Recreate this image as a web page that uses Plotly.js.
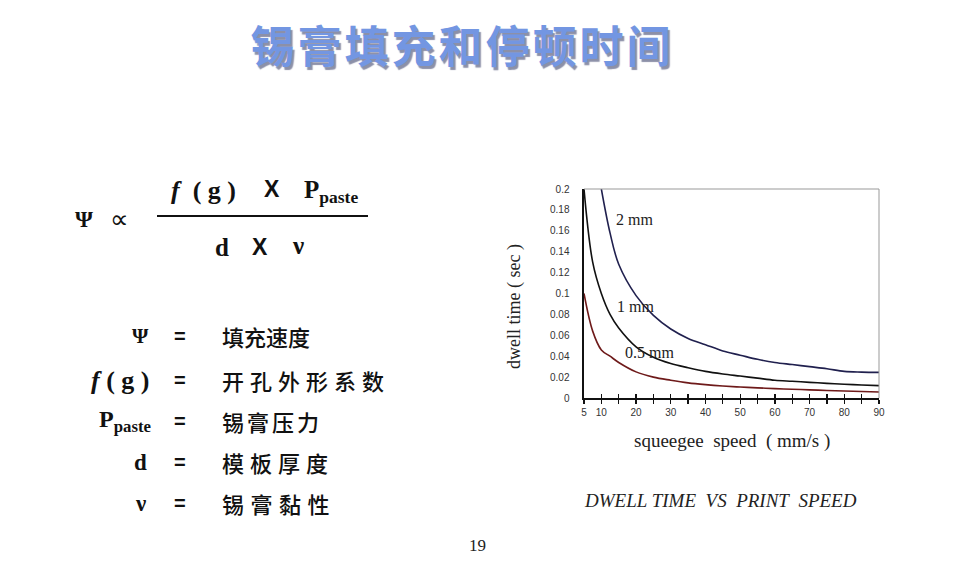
<!DOCTYPE html>
<html>
<head>
<meta charset="utf-8">
<script src="https://cdn.plot.ly/plotly-3.0.1.min.js"></script>
<style>html,body{margin:0;padding:0;background:#fff;}#chart{width:958px;height:572px;}</style>
</head>
<body>
<div id="chart"></div>
<script>
// ---- data ----
const speed = [5, 7.5, 10, 12.5, 15, 20, 25, 30, 35, 40, 45, 50, 55, 60, 65, 70, 75, 80, 85, 90];
const dwell2mm = [null, null, 0.2, 0.158, 0.128, 0.098, 0.079, 0.066, 0.057, 0.051, 0.045, 0.041, 0.037, 0.034, 0.032, 0.03, 0.028, 0.0255, 0.0248, 0.0245];
const dwell1mm = [0.2, 0.13, 0.1, 0.08, 0.067, 0.049, 0.039, 0.033, 0.029, 0.0255, 0.023, 0.021, 0.019, 0.017, 0.016, 0.015, 0.014, 0.0132, 0.0125, 0.0118];
const dwell05mm = [0.1, 0.064, 0.046, 0.04, 0.034, 0.025, 0.02, 0.017, 0.0145, 0.0128, 0.0115, 0.0105, 0.0097, 0.009, 0.0084, 0.0078, 0.0072, 0.0067, 0.0062, 0.0058];
const curveLabels = ["2 mm", "1 mm", "0.5 mm"];
const xTickVals = [5, 10, 20, 30, 40, 50, 60, 70, 80, 90];
const xTickText = ["5", "10", "20", "30", "40", "50", "60", "70", "80", "90"];
const xMinorVals = [15, 25, 35, 45, 55, 65, 75, 85];
const yTickVals = [0, 0.02, 0.04, 0.06, 0.08, 0.1, 0.12, 0.14, 0.16, 0.18, 0.2];
const yTickText = ["0", "0.02", "0.04", "0.06", "0.08", "0.1", "0.12", "0.14", "0.16", "0.18", "0.2"];
const pageTitle = "锡膏填充和停顿时间";
const defTerms = ["Ψ", "<i>f</i>\u00a0(\u00a0g\u00a0)", "P<sub>paste</sub>", "d", "ν"];
const defMeanings = ["填充速度", "开孔外形系数", "锡膏压力", "模板厚度", "锡膏黏性"];

const SERIF = "Liberation Serif, Times New Roman, serif";
const SANS = "Liberation Sans, Arial, sans-serif";
const CJK = "Noto Sans CJK SC, sans-serif";

const W = 958, H = 572;
const px = x => x / W;
const py = y => 1 - y / H;

const traces = [
  {x: speed, y: dwell2mm, mode: "lines", line: {color: "#20204e", width: 1.6, shape: "spline"}, name: curveLabels[0], hoverinfo: "skip"},
  {x: speed, y: dwell1mm, mode: "lines", line: {color: "#111111", width: 1.6, shape: "spline"}, name: curveLabels[1], hoverinfo: "skip"},
  {x: speed, y: dwell05mm, mode: "lines", line: {color: "#6e1a1a", width: 1.6, shape: "spline"}, name: curveLabels[2], hoverinfo: "skip"},
  {x: [5, 90], y: [null, null], xaxis: "x2", mode: "lines", showlegend: false, hoverinfo: "skip"}
];

const titleSpacing = 3;
const ann = [];
// page title (letter spacing and shadow added by CSS below; x pre-compensated for centred growth)
ann.push({text: "<b>" + pageTitle + "</b>", x: px(248 + pageTitle.length * titleSpacing / 2), y: py(44), xref: "paper", yref: "paper", showarrow: false,
  font: {family: CJK, size: 44, color: "#7396e2"}, xanchor: "left", yanchor: "middle"});

// formula
ann.push({text: "<b>Ψ</b>", x: px(84), y: py(219), xref: "paper", yref: "paper", showarrow: false,
  font: {family: SERIF, size: 23, color: "#111"}, xanchor: "center", yanchor: "middle"});
ann.push({text: "∝", x: px(119), y: py(219), xref: "paper", yref: "paper", showarrow: false,
  font: {family: "DejaVu Sans, sans-serif", size: 26, color: "#111"}, xanchor: "center", yanchor: "middle"});
ann.push({text: "<b><i>f</i>\u00a0 (\u00a0g\u00a0)</b>", x: px(169), y: py(190), xref: "paper", yref: "paper", showarrow: false,
  font: {family: SERIF, size: 26, color: "#111"}, xanchor: "left", yanchor: "middle"});
ann.push({text: "<b>X</b>", x: px(272), y: py(189), xref: "paper", yref: "paper", showarrow: false,
  font: {family: SANS, size: 23, color: "#111"}, xanchor: "center", yanchor: "middle"});
ann.push({text: "<b>P<sub>paste</sub></b>", x: px(302), y: py(192), xref: "paper", yref: "paper", showarrow: false,
  font: {family: SERIF, size: 25, color: "#111"}, xanchor: "left", yanchor: "middle"});
ann.push({text: "<b>d</b>", x: px(222), y: py(248), xref: "paper", yref: "paper", showarrow: false,
  font: {family: SERIF, size: 25, color: "#111"}, xanchor: "center", yanchor: "middle"});
ann.push({text: "<b>X</b>", x: px(260), y: py(247), xref: "paper", yref: "paper", showarrow: false,
  font: {family: SANS, size: 23, color: "#111"}, xanchor: "center", yanchor: "middle"});
ann.push({text: "<b>ν</b>", x: px(298), y: py(246), xref: "paper", yref: "paper", showarrow: false,
  font: {family: SERIF, size: 25, color: "#111"}, xanchor: "center", yanchor: "middle"});

// definitions
const defY = [336, 380, 421, 462, 503];
const defX = [140, 120, 125, 140, 140];
const defSize = [21, 26, 24, 23, 23];
const cjkSpacing = [0, 6, 3, 6, 6.5];
for (let i = 0; i < defTerms.length; i++) {
  ann.push({text: "<b>" + defTerms[i] + "</b>", x: px(defX[i]), y: py(defY[i]), xref: "paper", yref: "paper", showarrow: false,
    font: {family: SERIF, size: defSize[i], color: "#111"}, xanchor: "center", yanchor: "middle"});
  ann.push({text: "<b>=</b>", x: px(180), y: py(defY[i]), xref: "paper", yref: "paper", showarrow: false,
    font: {family: SANS, size: 20, color: "#111"}, xanchor: "center", yanchor: "middle"});
  ann.push({text: defMeanings[i], x: px(220 + defMeanings[i].length * cjkSpacing[i] / 2), y: py(defY[i]), xref: "paper", yref: "paper", showarrow: false,
    font: {family: CJK, size: 22, color: "#111", weight: 500}, xanchor: "left", yanchor: "middle"});
}

// chart texts
ann.push({text: "dwell time ( sec )", x: px(514), y: py(307), xref: "paper", yref: "paper", showarrow: false, textangle: -90,
  font: {family: SERIF, size: 18, color: "#222"}, xanchor: "center", yanchor: "middle"});
ann.push({text: "squeegee  speed  ( mm/s )", x: px(732), y: py(441), xref: "paper", yref: "paper", showarrow: false,
  font: {family: SERIF, size: 19, color: "#222"}, xanchor: "center", yanchor: "middle"});
ann.push({text: "<i>DWELL TIME\u00a0 VS\u00a0 PRINT\u00a0 SPEED</i>", x: px(720), y: py(500), xref: "paper", yref: "paper", showarrow: false,
  font: {family: SERIF, size: 19, color: "#222"}, xanchor: "center", yanchor: "middle"});
ann.push({text: "19", x: px(477), y: py(545), xref: "paper", yref: "paper", showarrow: false,
  font: {family: SERIF, size: 17, color: "#222"}, xanchor: "center", yanchor: "middle"});

// curve labels
const labPos = [[614, 220], [615, 306], [623, 353]];
for (let i = 0; i < curveLabels.length; i++) {
  ann.push({text: curveLabels[i], x: px(labPos[i][0]), y: py(labPos[i][1]), xref: "paper", yref: "paper", showarrow: false,
    font: {family: SERIF, size: 16, color: "#222"}, xanchor: "left", yanchor: "middle"});
}

const layout = {
  width: W, height: H,
  margin: {l: 0, r: 0, t: 0, b: 0},
  paper_bgcolor: "#ffffff", plot_bgcolor: "#ffffff",
  showlegend: false,
  xaxis: {domain: [px(584), px(879)], range: [5, 90], anchor: "y",
    tickvals: xTickVals, ticktext: xTickText, ticks: "outside", ticklen: 4, tickwidth: 1.3, tickcolor: "#111",
    minor: {tickvals: xMinorVals, ticks: "outside", ticklen: 4, tickwidth: 1.3, tickcolor: "#111", showgrid: false},
    showline: true, linecolor: "#111", linewidth: 2, showgrid: false, zeroline: false,
    tickfont: {family: SANS, size: 10, color: "#333"}, fixedrange: true},
  xaxis2: {overlaying: "x", anchor: "y", side: "bottom", range: [5, 90], domain: [px(584), px(879)],
    tickvals: xTickVals, ticks: "inside", ticklen: 4, tickwidth: 1.3, tickcolor: "#111",
    minor: {tickvals: xMinorVals, ticks: "inside", ticklen: 4, tickwidth: 1.3, tickcolor: "#111", showgrid: false},
    showticklabels: false, showline: false, showgrid: false, zeroline: false},
  yaxis: {domain: [py(398), py(189)], range: [0, 0.2], anchor: "x",
    tickvals: yTickVals, ticktext: yTickText, ticks: "", ticklabelstandoff: 10,
    showline: true, linecolor: "#111", linewidth: 2.5, showgrid: false, zeroline: false,
    tickfont: {family: SANS, size: 10, color: "#333"}, fixedrange: true},
  shapes: [
    {type: "line", xref: "x domain", yref: "y domain", x0: 0, x1: 1, y0: 1, y1: 1, line: {color: "#999", width: 1}},
    {type: "line", xref: "x domain", yref: "y domain", x0: 1, x1: 1, y0: 0, y1: 1, line: {color: "#999", width: 1}},
    {type: "line", xref: "paper", yref: "paper", x0: px(157), x1: px(368), y0: py(216), y1: py(216), line: {color: "#111", width: 2}}
  ],
  annotations: ann
};

Plotly.newPlot("chart", traces, layout, {displayModeBar: false, staticPlot: true}).then(function () {
  document.querySelectorAll("#chart .annotation-text").forEach(function (t) {
    const s = t.textContent;
    if (s === pageTitle) {
      t.style.letterSpacing = titleSpacing + "px";
      t.style.textShadow = "2px 3px 1px #8c90a8";
    }
    const k = defMeanings.indexOf(s);
    if (k >= 0) t.style.letterSpacing = cjkSpacing[k] + "px";
  });
});
</script>
</body>
</html>
